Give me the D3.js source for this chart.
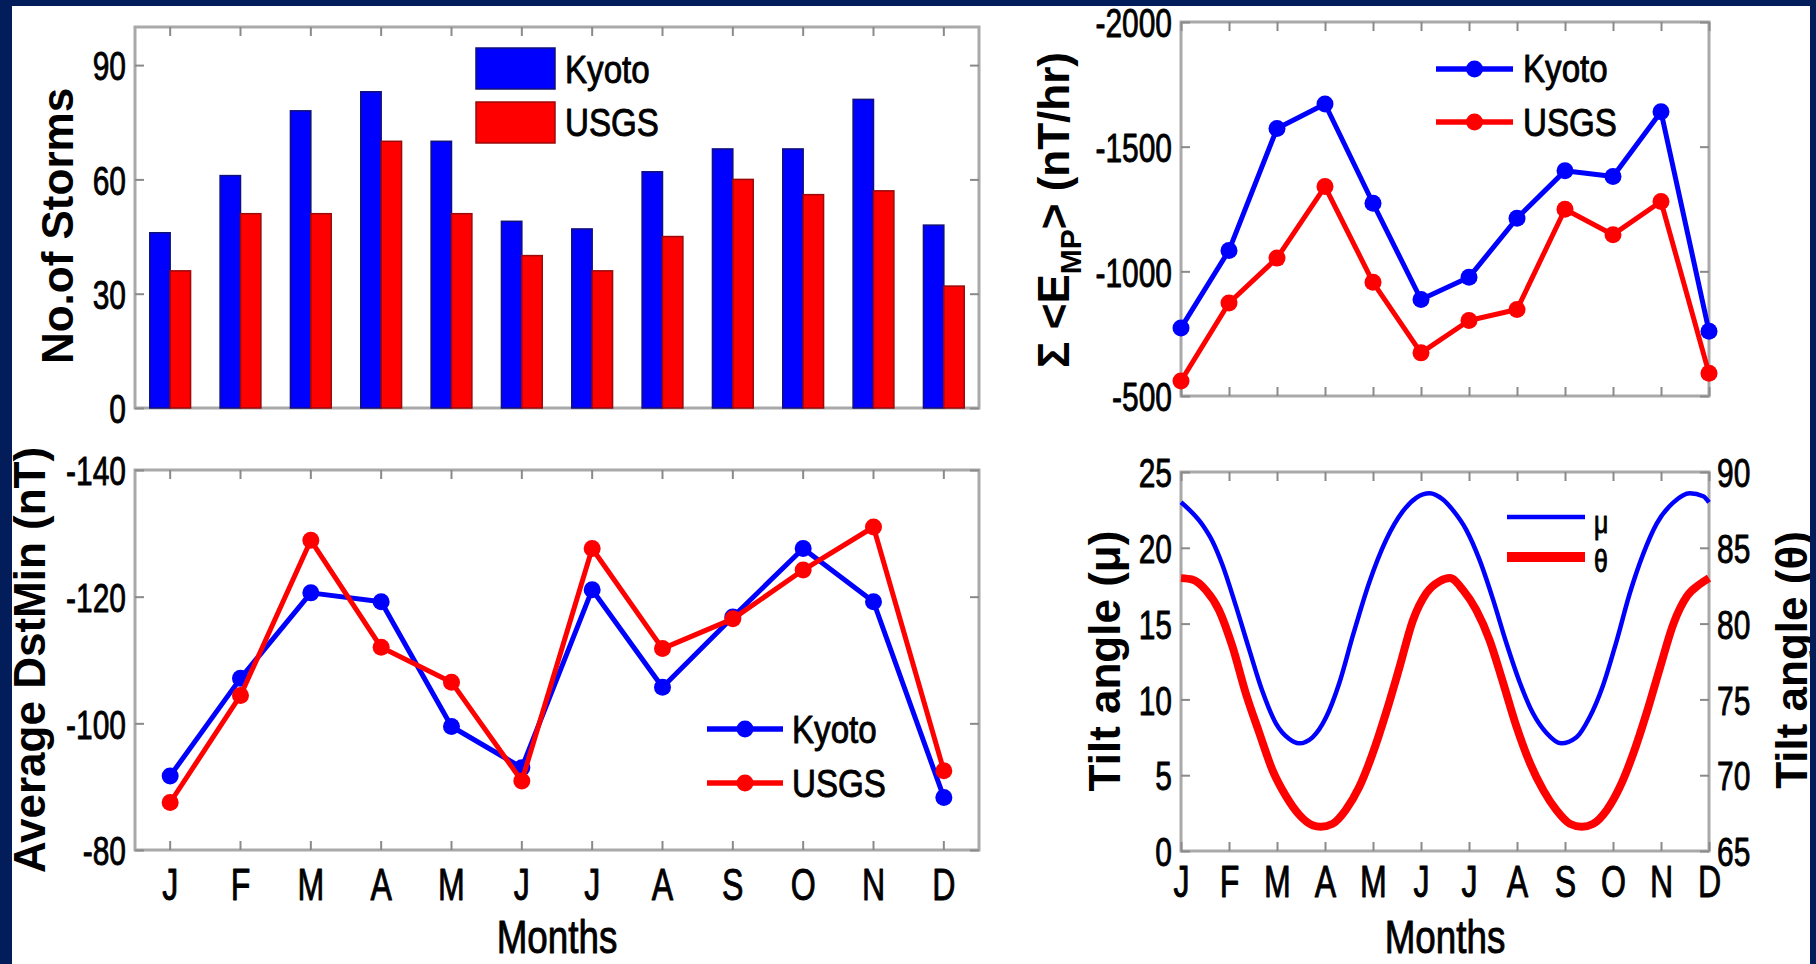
<!DOCTYPE html>
<html>
<head>
<meta charset="utf-8">
<script src="https://cdn.jsdelivr.net/npm/d3@7"></script>
<style>
  html, body { margin: 0; padding: 0; background: #021d5a; }
  svg { display: block; }
</style>
</head>
<body>
<svg id="fig" width="1816" height="964"></svg>
<script>
// ---------------- data ----------------
const months = ["J", "F", "M", "A", "M", "J", "J", "A", "S", "O", "N", "D"];
const seriesNames = ["Kyoto", "USGS"];

// number of storms per month
const stormsKyoto = [46, 61, 78, 83, 70, 49, 47, 62, 68, 68, 81, 48];
const stormsUSGS  = [36, 51, 51, 70, 51, 40, 36, 45, 60, 56, 57, 32];

// summed mean energy input per month (nT/hr)
const empKyoto = [-773, -1084, -1573, -1671, -1273, -887, -976, -1213, -1403, -1380, -1640, -760];
const empUSGS  = [-560, -873, -1053, -1340, -956, -673, -803, -847, -1249, -1147, -1280, -591];

// average Dst minimum per month (nT)
const dstKyoto = [-91.7, -107.1, -120.6, -119.2, -99.5, -93.0, -121.1, -105.7, -116.8, -127.6, -119.2, -88.3];
const dstUSGS  = [-87.5, -104.4, -128.9, -112.0, -106.5, -90.9, -127.6, -111.8, -116.5, -124.2, -131.0, -92.5];

// tilt angles through the year (position in month units: 1 = Jan ... 12 = Dec)
const muMonth = [1.00, 1.45, 1.66, 1.86, 2.14, 2.42, 2.70, 2.98, 3.25, 3.46, 3.74, 4.02, 4.30, 4.58, 4.92,
                 5.27, 5.62, 5.90, 6.18, 6.45, 6.66, 6.94, 7.22, 7.50, 7.78, 8.06, 8.33, 8.61, 8.92, 9.24,
                 9.51, 9.79, 10.07, 10.35, 10.63, 10.91, 11.26, 11.60, 11.88, 12.00];
const muValue = [23.0, 21.5, 20.4, 18.9, 16.2, 13.3, 10.5, 8.4, 7.4, 7.1, 7.5, 8.8, 11.1, 14.2, 17.7,
                 20.5, 22.4, 23.3, 23.6, 23.2, 22.5, 21.2, 19.2, 16.6, 13.7, 11.1, 9.1, 7.8, 7.1, 7.5,
                 8.8, 10.9, 13.8, 17.0, 19.6, 21.6, 23.0, 23.6, 23.4, 23.0];
const thetaMonth = [1.00, 1.24, 1.52, 1.79, 2.07, 2.35, 2.63, 2.91, 3.19, 3.46, 3.74, 3.91, 4.16, 4.43, 4.71,
                    4.99, 5.27, 5.55, 5.83, 6.11, 6.39, 6.60, 6.88, 7.15, 7.43, 7.71, 7.99, 8.27, 8.55, 8.82,
                    9.10, 9.35, 9.59, 9.87, 10.14, 10.42, 10.70, 10.98, 11.26, 11.54, 11.81, 12.00];
const thetaValue = [83.0, 82.9, 82.2, 80.9, 78.5, 75.4, 72.8, 70.3, 68.6, 67.4, 66.7, 66.6, 66.8, 67.7, 69.2,
                    71.4, 74.1, 77.1, 80.2, 82.0, 82.8, 83.0, 82.2, 80.9, 78.9, 76.1, 73.2, 70.8, 69.0, 67.7,
                    66.8, 66.6, 66.8, 67.7, 69.2, 71.4, 74.1, 77.1, 80.0, 81.8, 82.6, 83.0];

// tick values
const stormTicks = [0, 30, 60, 90];
const empTicks = [-2000, -1500, -1000, -500];
const dstTicks = [-140, -120, -100, -80];
const muTicks = [0, 5, 10, 15, 20, 25];
const thetaTicks = [65, 70, 75, 80, 85, 90];

// ---------------- styling ----------------
const W = 1816, H = 964;
const FONT = "'Liberation Sans', Arial, Helvetica, sans-serif";
const BLUE = "#0000ff", RED = "#ff0000";
const NAVY = "#021d5a";
const AXIS_GRAY = "#a9a9a9", TICK_GRAY = "#8a8a8a";
const TICK_FONT = 41, TICK_SX = 0.73;       // narrow numeric tick labels
const MONTH_FONT = 44, MONTH_SX = 0.73;
const LEG_FONT = 39, LEG_SX = 0.85;
const YLAB_FONT = 44;
const TICK_LEN = 9;
const TEXT_WEIGHT = 0.9;                    // extra stroke for the narrow labels

const svg = d3.select("#fig");
svg.append("rect").attr("width", W).attr("height", H).attr("fill", "#fff");

// panel geometry
const P1 = { l: 135, r: 979, t: 27, b: 408 };
const P2 = { l: 1181, r: 1709, t: 22, b: 396 };
const P3 = { l: 135, r: 979, t: 470, b: 850 };
const P4 = { l: 1181, r: 1709, t: 472, b: 851 };

// ---------------- scales ----------------
const idx = d3.range(12);
const xBand1 = d3.scaleBand().domain(idx).range([P1.l, P1.r]).padding(0);
const xBand3 = d3.scaleBand().domain(idx).range([P3.l, P3.r]).padding(0);
const xSeries = d3.scaleBand().domain(seriesNames)
  .range([xBand1.bandwidth() * 0.21, xBand1.bandwidth() * 0.79]).padding(0);
const yStorm = d3.scaleLinear().domain([0, 100]).range([P1.b, P1.t]);

const xLin2 = d3.scaleLinear().domain([1, 12]).range([P2.l, P2.r]);
const yEmp = d3.scaleLinear().domain([-500, -2000]).range([P2.b, P2.t]);

const yDst = d3.scaleLinear().domain([-80, -140]).range([P3.b, P3.t]);

const xLin4 = d3.scaleLinear().domain([1, 12]).range([P4.l, P4.r]);
const yMu = d3.scaleLinear().domain([0, 25]).range([P4.b, P4.t]);
const yTheta = d3.scaleLinear().domain([65, 90]).range([P4.b, P4.t]);

// ---------------- helpers ----------------
function frame(p) {
  svg.append("rect")
    .attr("x", p.l).attr("y", p.t)
    .attr("width", p.r - p.l).attr("height", p.b - p.t)
    .attr("fill", "none").attr("stroke", AXIS_GRAY).attr("stroke-width", 3);
}

function styleTicks(g) {
  g.select(".domain").remove();
  g.selectAll(".tick line").attr("stroke", TICK_GRAY).attr("stroke-width", 2);
}

function heavy(sel) {
  return sel.attr("stroke", "#000").attr("stroke-width", TEXT_WEIGHT).attr("stroke-linejoin", "round");
}

function leftAxis(scale, ticks, x, withLabels) {
  const g = svg.append("g").attr("transform", `translate(${x},0)`)
    .call(d3.axisLeft(scale).tickValues(ticks).tickSizeInner(-TICK_LEN).tickSizeOuter(0)
      .tickFormat(withLabels ? (d => String(d)) : ""));
  styleTicks(g);
  heavy(g.selectAll(".tick text")
    .attr("x", null).attr("dy", null).attr("fill", "#000")
    .attr("font-family", FONT).attr("font-size", TICK_FONT).attr("text-anchor", "end")
    .attr("transform", `translate(-9,${(0.716 * TICK_FONT / 2).toFixed(1)}) scale(${TICK_SX},1)`));
  return g;
}

function rightAxis(scale, ticks, x, withLabels) {
  const g = svg.append("g").attr("transform", `translate(${x},0)`)
    .call(d3.axisRight(scale).tickValues(ticks).tickSizeInner(-TICK_LEN).tickSizeOuter(0)
      .tickFormat(withLabels ? (d => String(d)) : ""));
  styleTicks(g);
  heavy(g.selectAll(".tick text")
    .attr("x", null).attr("dy", null).attr("fill", "#000")
    .attr("font-family", FONT).attr("font-size", TICK_FONT).attr("text-anchor", "start")
    .attr("transform", `translate(8,${(0.716 * TICK_FONT / 2).toFixed(1)}) scale(${TICK_SX},1)`));
  return g;
}

function bottomAxis(scale, y, ticks, labelOffset) {
  const ax = d3.axisBottom(scale).tickSizeInner(-TICK_LEN).tickSizeOuter(0);
  if (ticks) ax.tickValues(ticks);
  ax.tickFormat(labelOffset ? (d => months[scale.bandwidth ? d : d - 1]) : "");
  const g = svg.append("g").attr("transform", `translate(0,${y})`).call(ax);
  styleTicks(g);
  heavy(g.selectAll(".tick text")
    .attr("y", null).attr("dy", null).attr("fill", "#000")
    .attr("font-family", FONT).attr("font-size", MONTH_FONT).attr("text-anchor", "middle")
    .attr("transform", `translate(0,${labelOffset || 0}) scale(${MONTH_SX},1)`));
  return g;
}

function topAxis(scale, y, ticks) {
  const ax = d3.axisTop(scale).tickSizeInner(-TICK_LEN).tickSizeOuter(0).tickFormat("");
  if (ticks) ax.tickValues(ticks);
  const g = svg.append("g").attr("transform", `translate(0,${y})`).call(ax);
  styleTicks(g);
  return g;
}

function narrowText(x, y, str, size, sx, anchor) {
  return heavy(svg.append("text")
    .attr("transform", `translate(${x},${y}) scale(${sx},1)`)
    .attr("font-family", FONT).attr("font-size", size)
    .attr("text-anchor", anchor || "start").attr("fill", "#000")
    .text(str));
}

function yLabel(x, y, str) {
  return svg.append("text")
    .attr("transform", `translate(${x},${y}) rotate(-90)`)
    .attr("font-family", FONT).attr("font-size", YLAB_FONT).attr("font-weight", "bold")
    .attr("text-anchor", "middle").attr("fill", "#000")
    .text(str);
}

function lineLegend(x0, x1, y, color, label, textX, baseline) {
  svg.append("line").attr("x1", x0).attr("x2", x1).attr("y1", y).attr("y2", y)
    .attr("stroke", color).attr("stroke-width", 5.5);
  svg.append("circle").attr("cx", (x0 + x1) / 2).attr("cy", y).attr("r", 8.5).attr("fill", color);
  narrowText(textX, baseline, label, LEG_FONT, LEG_SX);
}

// ---------------- panel 1: storm counts ----------------
frame(P1);
leftAxis(yStorm, stormTicks, P1.l, true);
rightAxis(yStorm, stormTicks, P1.r, false);
topAxis(xBand1, P1.t);
bottomAxis(xBand1, P1.b, null, 0);

const stormData = idx.map(i => ({ i, Kyoto: stormsKyoto[i], USGS: stormsUSGS[i] }));
const barColor = { Kyoto: BLUE, USGS: RED };
const barEdge = { Kyoto: "#10107a", USGS: "#9a0a0a" };
svg.append("g").selectAll("g").data(stormData).join("g")
  .attr("transform", d => `translate(${xBand1(d.i)},0)`)
  .selectAll("rect").data(d => seriesNames.map(s => ({ s, v: d[s] }))).join("rect")
  .attr("x", d => xSeries(d.s))
  .attr("width", xSeries.bandwidth())
  .attr("y", d => yStorm(d.v))
  .attr("height", d => yStorm(0) - yStorm(d.v))
  .attr("fill", d => barColor[d.s])
  .attr("stroke", d => barEdge[d.s]).attr("stroke-width", 1.5);

// bar legend
seriesNames.forEach((s, k) => {
  svg.append("rect").attr("x", 476).attr("y", 48 + k * 54).attr("width", 79).attr("height", 41)
    .attr("fill", barColor[s]).attr("stroke", barEdge[s]).attr("stroke-width", 1.5);
  narrowText(565, 83 + k * 53, s, LEG_FONT, LEG_SX);
});
yLabel(73, 226, "No.of Storms");

// ---------------- panel 2: energy input ----------------
frame(P2);
leftAxis(yEmp, empTicks, P2.l, true);
rightAxis(yEmp, empTicks, P2.r, false);
topAxis(xLin2, P2.t, d3.range(1, 13));
bottomAxis(xLin2, P2.b, d3.range(1, 13), 0);

function drawSeries(values, xf, yf, color) {
  const pts = values.map((v, i) => [xf(i), yf(v)]);
  svg.append("path").datum(pts)
    .attr("d", d3.line())
    .attr("fill", "none").attr("stroke", color).attr("stroke-width", 5)
    .attr("stroke-linejoin", "round");
  svg.append("g").selectAll("circle").data(pts).join("circle")
    .attr("cx", d => d[0]).attr("cy", d => d[1]).attr("r", 8.5).attr("fill", color);
}
drawSeries(empKyoto, i => xLin2(i + 1), yEmp, BLUE);
drawSeries(empUSGS, i => xLin2(i + 1), yEmp, RED);
lineLegend(1436, 1513, 69, BLUE, "Kyoto", 1523, 82);
lineLegend(1436, 1513, 122, RED, "USGS", 1523, 136);

const emLabel = svg.append("text")
  .attr("transform", `translate(1069,210) rotate(-90)`)
  .attr("font-family", FONT).attr("font-size", YLAB_FONT).attr("font-weight", "bold")
  .attr("text-anchor", "middle").attr("fill", "#000");
emLabel.append("tspan").text("\u03A3 <E");
emLabel.append("tspan").attr("font-size", 30).attr("dy", 12).text("MP");
emLabel.append("tspan").attr("dy", -12).text("> (nT/hr)");

// ---------------- panel 3: Dst minimum ----------------
frame(P3);
leftAxis(yDst, dstTicks, P3.l, true);
rightAxis(yDst, dstTicks, P3.r, false);
topAxis(xBand3, P3.t);
bottomAxis(xBand3, P3.b, null, 50);
const cx3 = i => xBand3(i) + xBand3.bandwidth() / 2;
drawSeries(dstKyoto, cx3, yDst, BLUE);
drawSeries(dstUSGS, cx3, yDst, RED);
lineLegend(707, 783, 729, BLUE, "Kyoto", 792, 743);
lineLegend(707, 783, 783, RED, "USGS", 792, 797);
yLabel(45, 660, "Average DstMin (nT)");
narrowText((P3.l + P3.r) / 2, 953, "Months", 46, 0.8, "middle");

// ---------------- panel 4: tilt angles ----------------
frame(P4);
leftAxis(yMu, muTicks, P4.l, true);
rightAxis(yTheta, thetaTicks, P4.r, true);
topAxis(xLin4, P4.t, d3.range(1, 13));
bottomAxis(xLin4, P4.b, d3.range(1, 13), 46);

const smooth = d3.line().curve(d3.curveMonotoneX);
const thetaPts = thetaMonth.map((m, i) => [xLin4(m), yTheta(thetaValue[i])]);
svg.append("path").datum(thetaPts)
  .attr("d", smooth)
  .attr("fill", "none").attr("stroke", RED).attr("stroke-width", 8);
const muPts = muMonth.map((m, i) => [xLin4(m), yMu(muValue[i])]);
svg.append("path").datum(muPts)
  .attr("d", smooth)
  .attr("fill", "none").attr("stroke", BLUE).attr("stroke-width", 4.5);

svg.append("line").attr("x1", 1507).attr("x2", 1585).attr("y1", 517).attr("y2", 517)
  .attr("stroke", BLUE).attr("stroke-width", 4.5);
svg.append("line").attr("x1", 1507).attr("x2", 1585).attr("y1", 557).attr("y2", 557)
  .attr("stroke", RED).attr("stroke-width", 10);
narrowText(1594, 533, "\u03BC", 31, 0.8);
narrowText(1594, 572, "\u03B8", 31, 0.8);

yLabel(1120, 661, "Tilt angle (\u03BC)");
yLabel(1807, 660, "Tilt angle (\u03B8)");
narrowText((P4.l + P4.r) / 2, 953, "Months", 46, 0.8, "middle");

// ---------------- outer border ----------------
svg.append("rect").attr("x", 0).attr("y", 0).attr("width", W).attr("height", 6).attr("fill", NAVY);
svg.append("rect").attr("x", 0).attr("y", 0).attr("width", 12).attr("height", H).attr("fill", NAVY);
svg.append("rect").attr("x", 1810).attr("y", 0).attr("width", 6).attr("height", H).attr("fill", NAVY);
</script>
</body>
</html>
